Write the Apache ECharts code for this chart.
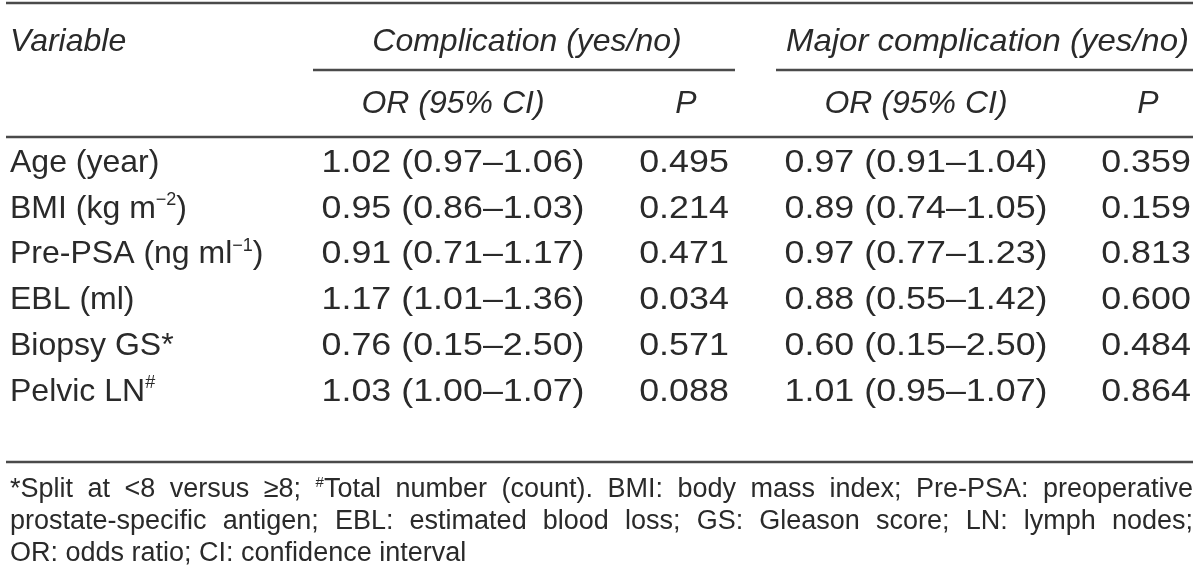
<!DOCTYPE html>
<html><head><meta charset="utf-8">
<script src="https://cdn.jsdelivr.net/npm/echarts@6/dist/echarts.min.js"></script>
<style>html,body{margin:0;padding:0;background:#fff}#c{width:1200px;height:587px}</style>
</head><body><div id="c"></div>
<script>
// ---- data ----
const variables = ['Age (year)', 'BMI (kg m{sup|\u22122})', 'Pre-PSA (ng ml{sup|\u22121})', 'EBL (ml)', 'Biopsy GS*', 'Pelvic LN{sup|#}'];
const compOR = [1.02, 0.95, 0.91, 1.17, 0.76, 1.03];
const compLo = [0.97, 0.86, 0.71, 1.01, 0.15, 1.00];
const compHi = [1.06, 1.03, 1.17, 1.36, 2.50, 1.07];
const compP  = [0.495, 0.214, 0.471, 0.034, 0.571, 0.088];
const majOR  = [0.97, 0.89, 0.97, 0.88, 0.60, 1.01];
const majLo  = [0.91, 0.74, 0.77, 0.55, 0.15, 0.95];
const majHi  = [1.04, 1.05, 1.23, 1.42, 2.50, 1.07];
const majP   = [0.359, 0.159, 0.813, 0.600, 0.484, 0.864];
const groupHeaders = ['Complication (yes/no)', 'Major complication (yes/no)'];
const subHeaders = ['OR (95% CI)', 'P'];
const firstHeader = 'Variable';
const footnotes = [
  '*Split at <8 versus \u22658; {sup|#}Total number (count). BMI: body mass index; Pre-PSA: preoperative',
  'prostate-specific antigen; EBL: estimated blood loss; GS: Gleason score; LN: lymph nodes;',
  'OR: odds ratio; CI: confidence interval'
];

// ---- layout ----
const FAM = '"Liberation Sans", Arial, sans-serif';
const TXT = '#2a2a2a';
const LINE = '#4a4a4a';
const FS = 32, FN = 27;
const L = 6, R = 1193;
const colX = [453, 684, 916, 1146];
const groupSpan = [[313, 735], [776, R]];
const rowY0 = 163, rowStep = 45.8;
const NUMSCALE = 1.12;
const els = [];

function txt(s, x, y, o) {
  o = o || {};
  const al = o.align || 'left';
  els.push({
    type: 'text', x: x, y: y, scaleX: o.scaleX || 1, originX: 0, originY: 0,
    style: {
      text: s, fill: TXT, fontSize: o.size || FS, fontFamily: FAM, fontStyle: o.italic ? 'italic' : 'normal',
      align: al, textAlign: al, verticalAlign: 'middle', textVerticalAlign: 'middle',
      lineHeight: o.lh || 36,
      rich: { sup: { fontSize: o.supSize || 18, fontFamily: FAM, fill: TXT, verticalAlign: 'top', lineHeight: o.lh || 36 } }
    }
  });
}
function hline(x1, x2, y, w) {
  els.push({ type: 'line', shape: { x1: x1, y1: y, x2: x2, y2: y }, style: { stroke: LINE, lineWidth: w || 2.5 } });
}

hline(L, R, 3);
hline(groupSpan[0][0], groupSpan[0][1], 70);
hline(groupSpan[1][0], groupSpan[1][1], 70);
hline(L, R, 137);
hline(L, R, 462);

txt(firstHeader, 10, 42, { italic: true });
groupHeaders.forEach((g, i) => txt(g, (groupSpan[i][0] + groupSpan[i][1]) / 2 + 3, 42, { italic: true, align: 'center', scaleX: i === 1 ? 1.03 : 1 }));
[0, 1].forEach(g => subHeaders.forEach((h, j) => txt(h, colX[g * 2 + j] + (j === 1 ? 2 : 0), 104, { italic: true, align: 'center' })));

const f2 = v => v.toFixed(2), f3 = v => v.toFixed(3);
variables.forEach((v, i) => {
  const y = rowY0 + i * rowStep;
  txt(v, 10, y);
  txt(f2(compOR[i]) + ' (' + f2(compLo[i]) + '\u2013' + f2(compHi[i]) + ')', colX[0], y, { align: 'center', scaleX: NUMSCALE });
  txt(f3(compP[i]), colX[1], y, { align: 'center', scaleX: NUMSCALE });
  txt(f2(majOR[i]) + ' (' + f2(majLo[i]) + '\u2013' + f2(majHi[i]) + ')', colX[2], y, { align: 'center', scaleX: NUMSCALE });
  txt(f3(majP[i]), colX[3], y, { align: 'center', scaleX: NUMSCALE });
});

// justified footnote
const mctx = document.createElement('canvas').getContext('2d');
function measure(word) {
  let w = 0;
  const parts = word.split(/(\{sup\|[^}]*\})/);
  parts.forEach(p => {
    if (!p) return;
    const m = p.match(/^\{sup\|([^}]*)\}$/);
    if (m) { mctx.font = '15px ' + FAM; w += mctx.measureText(m[1]).width; }
    else { mctx.font = FN + 'px ' + FAM; w += mctx.measureText(p).width; }
  });
  return w;
}
const footY = [490, 522, 554];
footnotes.forEach((line, li) => {
  const y = footY[li];
  if (li === footnotes.length - 1) { txt(line, 10, y, { size: FN, lh: 30, supSize: 15 }); return; }
  const words = line.split(' ');
  const widths = words.map(measure);
  const total = widths.reduce((a, b) => a + b, 0);
  const gap = (R - 10 - total) / (words.length - 1);
  let x = 10;
  words.forEach((w, k) => { txt(w, x, y, { size: FN, lh: 30, supSize: 15 }); x += widths[k] + gap; });
});

const chart = echarts.init(document.getElementById('c'));
chart.setOption({ backgroundColor: '#fff', animation: false, graphic: { elements: els } });
</script>
</body></html>
